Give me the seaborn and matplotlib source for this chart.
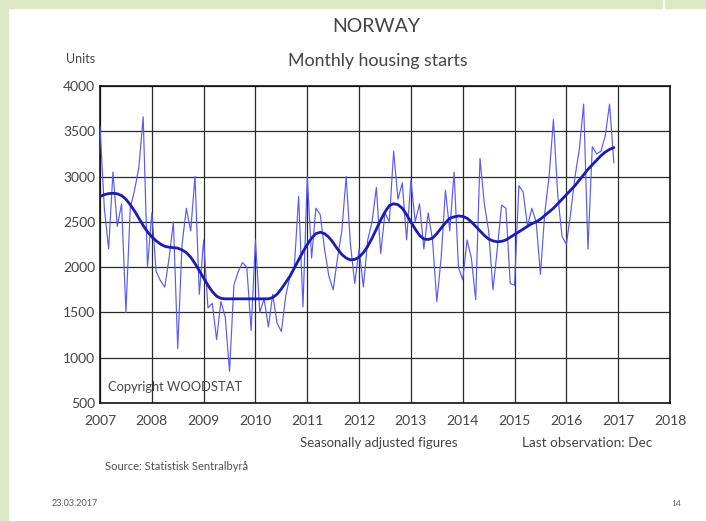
import numpy as np
import pandas as pd
import matplotlib
matplotlib.use("Agg")
import matplotlib.pyplot as plt
from matplotlib.patches import Rectangle
import seaborn as sns

# ---------------- data (monthly, Jan 2007 - Dec 2016) ----------------
start_year = 2007
raw_units = [
    3550, 2650, 2200, 3050, 2450, 2700, 1500, 2650, 2850, 3100, 3660, 2000,   # 2007
    2600, 1950, 1850, 1780, 2100, 2500, 1100, 2250, 2650, 2400, 3000, 1700,   # 2008
    2300, 1550, 1600, 1200, 1620, 1450, 850, 1800, 1950, 2050, 2000, 1300,    # 2009
    2300, 1500, 1650, 1340, 1700, 1380, 1290, 1680, 1900, 2000, 2780, 1560,   # 2010
    3000, 2100, 2650, 2580, 2200, 1900, 1750, 2100, 2400, 3000, 2250, 1820,   # 2011
    2200, 1780, 2300, 2500, 2880, 2150, 2600, 2500, 3280, 2750, 2930, 2300,   # 2012
    2960, 2500, 2700, 2200, 2600, 2300, 1620, 2100, 2850, 2400, 3050, 2000,   # 2013
    1860, 2300, 2100, 1640, 3200, 2700, 2400, 1750, 2200, 2685, 2650, 1820,   # 2014
    1800, 2900, 2830, 2450, 2650, 2500, 1920, 2600, 3000, 3630, 2800, 2340,   # 2015
    2250, 2600, 3000, 3300, 3800, 2200, 3330, 3250, 3280, 3450, 3800, 3150,   # 2016
]
trend_units = [
    2780, 2800, 2812, 2815, 2810, 2790, 2750, 2690, 2620, 2540, 2460, 2390,   # 2007
    2335, 2290, 2255, 2230, 2220, 2215, 2210, 2190, 2160, 2110, 2040, 1960,   # 2008
    1880, 1800, 1730, 1680, 1655, 1650, 1650, 1650, 1650, 1650, 1650, 1650,   # 2009
    1650, 1650, 1650, 1650, 1665, 1700, 1760, 1830, 1900, 1990, 2080, 2170,   # 2010
    2250, 2320, 2370, 2385, 2370, 2330, 2270, 2200, 2140, 2100, 2080, 2085,   # 2011
    2110, 2160, 2230, 2320, 2420, 2520, 2610, 2680, 2700, 2690, 2650, 2580,   # 2012
    2500, 2420, 2350, 2310, 2305, 2320, 2370, 2430, 2490, 2540, 2555, 2565,   # 2013
    2560, 2540, 2500, 2450, 2400, 2350, 2310, 2290, 2280, 2285, 2300, 2330,   # 2014
    2360, 2390, 2420, 2450, 2480, 2500, 2530, 2570, 2610, 2650, 2700, 2750,   # 2015
    2800, 2850, 2900, 2960, 3020, 3080, 3130, 3180, 3230, 3270, 3300, 3320,   # 2016
]
year_ticks = list(range(2007, 2019))
unit_ticks = list(range(500, 4001, 500))

months = np.arange(len(raw_units))
df = pd.DataFrame({
    "t": start_year + months / 12.0,
    "raw": raw_units,
    "trend": trend_units,
})

# ---------------- style ----------------
sns.set_style("white")
plt.rcParams["font.family"] = ["Lato", "DejaVu Sans"]

W, H = 706, 521
fig = plt.figure(figsize=(W / 100, H / 100), dpi=100)
fig.patch.set_facecolor("white")

green = "#dde8c4"
fig.patches.append(Rectangle((0, 0), 8 / W, 1, transform=fig.transFigure, color=green, zorder=0))
fig.patches.append(Rectangle((0, 1 - 8 / H), 662 / W, 8 / H, transform=fig.transFigure, color=green, zorder=0))
fig.patches.append(Rectangle((665 / W, 1 - 8 / H), 41 / W, 8 / H, transform=fig.transFigure, color=green, zorder=0))

left, right, top, bottom = 100, 670, 86, 403
ax = fig.add_axes([left / W, 1 - bottom / H, (right - left) / W, (bottom - top) / H])

sns.lineplot(data=df, x="t", y="raw", ax=ax, color="#5a5af5", lw=0.85, zorder=3)
sns.lineplot(data=df, x="t", y="trend", ax=ax, color="#1c1cb4", lw=2.0, zorder=4)

ax.set_xlim(2007, 2018)
ax.set_ylim(500, 4000)
ax.set_xticks(year_ticks)
ax.set_yticks(unit_ticks)
ax.set_xticklabels([str(y) for y in year_ticks])
ax.set_yticklabels([str(u) for u in unit_ticks])
ax.grid(True, color="#2a2a2a", lw=0.9)
ax.set_axisbelow(True)
for s in ax.spines.values():
    s.set_color("#111111")
    s.set_linewidth(1.2)
tc = "#444444"
ax.tick_params(axis="both", direction="inout", length=5, width=1, colors="#111111",
               labelsize=10, labelcolor=tc)
ax.tick_params(axis="x", pad=6)
ax.tick_params(axis="y", pad=1)
ax.set_xlabel("")
ax.set_ylabel("")

ax.text(0.014, 0.05, "Copyright WOODSTAT", transform=ax.transAxes, fontsize=9.3,
        color=tc, ha="left", va="center")

def ftext(x, y, s, **kw):
    fig.text(x / W, 1 - y / H, s, **kw)

ftext(376, 27, "NORWAY", fontsize=14, color=tc, ha="center", va="center")
ftext(378, 61, "Monthly housing starts", fontsize=12.8, color=tc, ha="center", va="center")
ftext(81, 59, "Units", fontsize=9, color=tc, ha="center", va="center")
ftext(379, 443, "Seasonally adjusted figures", fontsize=9.5, color=tc, ha="center", va="center")
ftext(587, 443, "Last observation: Dec", fontsize=9.8, color=tc, ha="center", va="center")
ftext(105, 466, "Source: Statistisk Sentralbyrå", fontsize=8, color="#505050", ha="left", va="center")
ftext(52, 504, "23.03.2017", fontsize=6.5, color="#5a5a5a", ha="left", va="center")
ftext(676, 504, "14", fontsize=6, color="#5a5a5a", ha="center", va="center")

fig.savefig("out.png", dpi=100)
